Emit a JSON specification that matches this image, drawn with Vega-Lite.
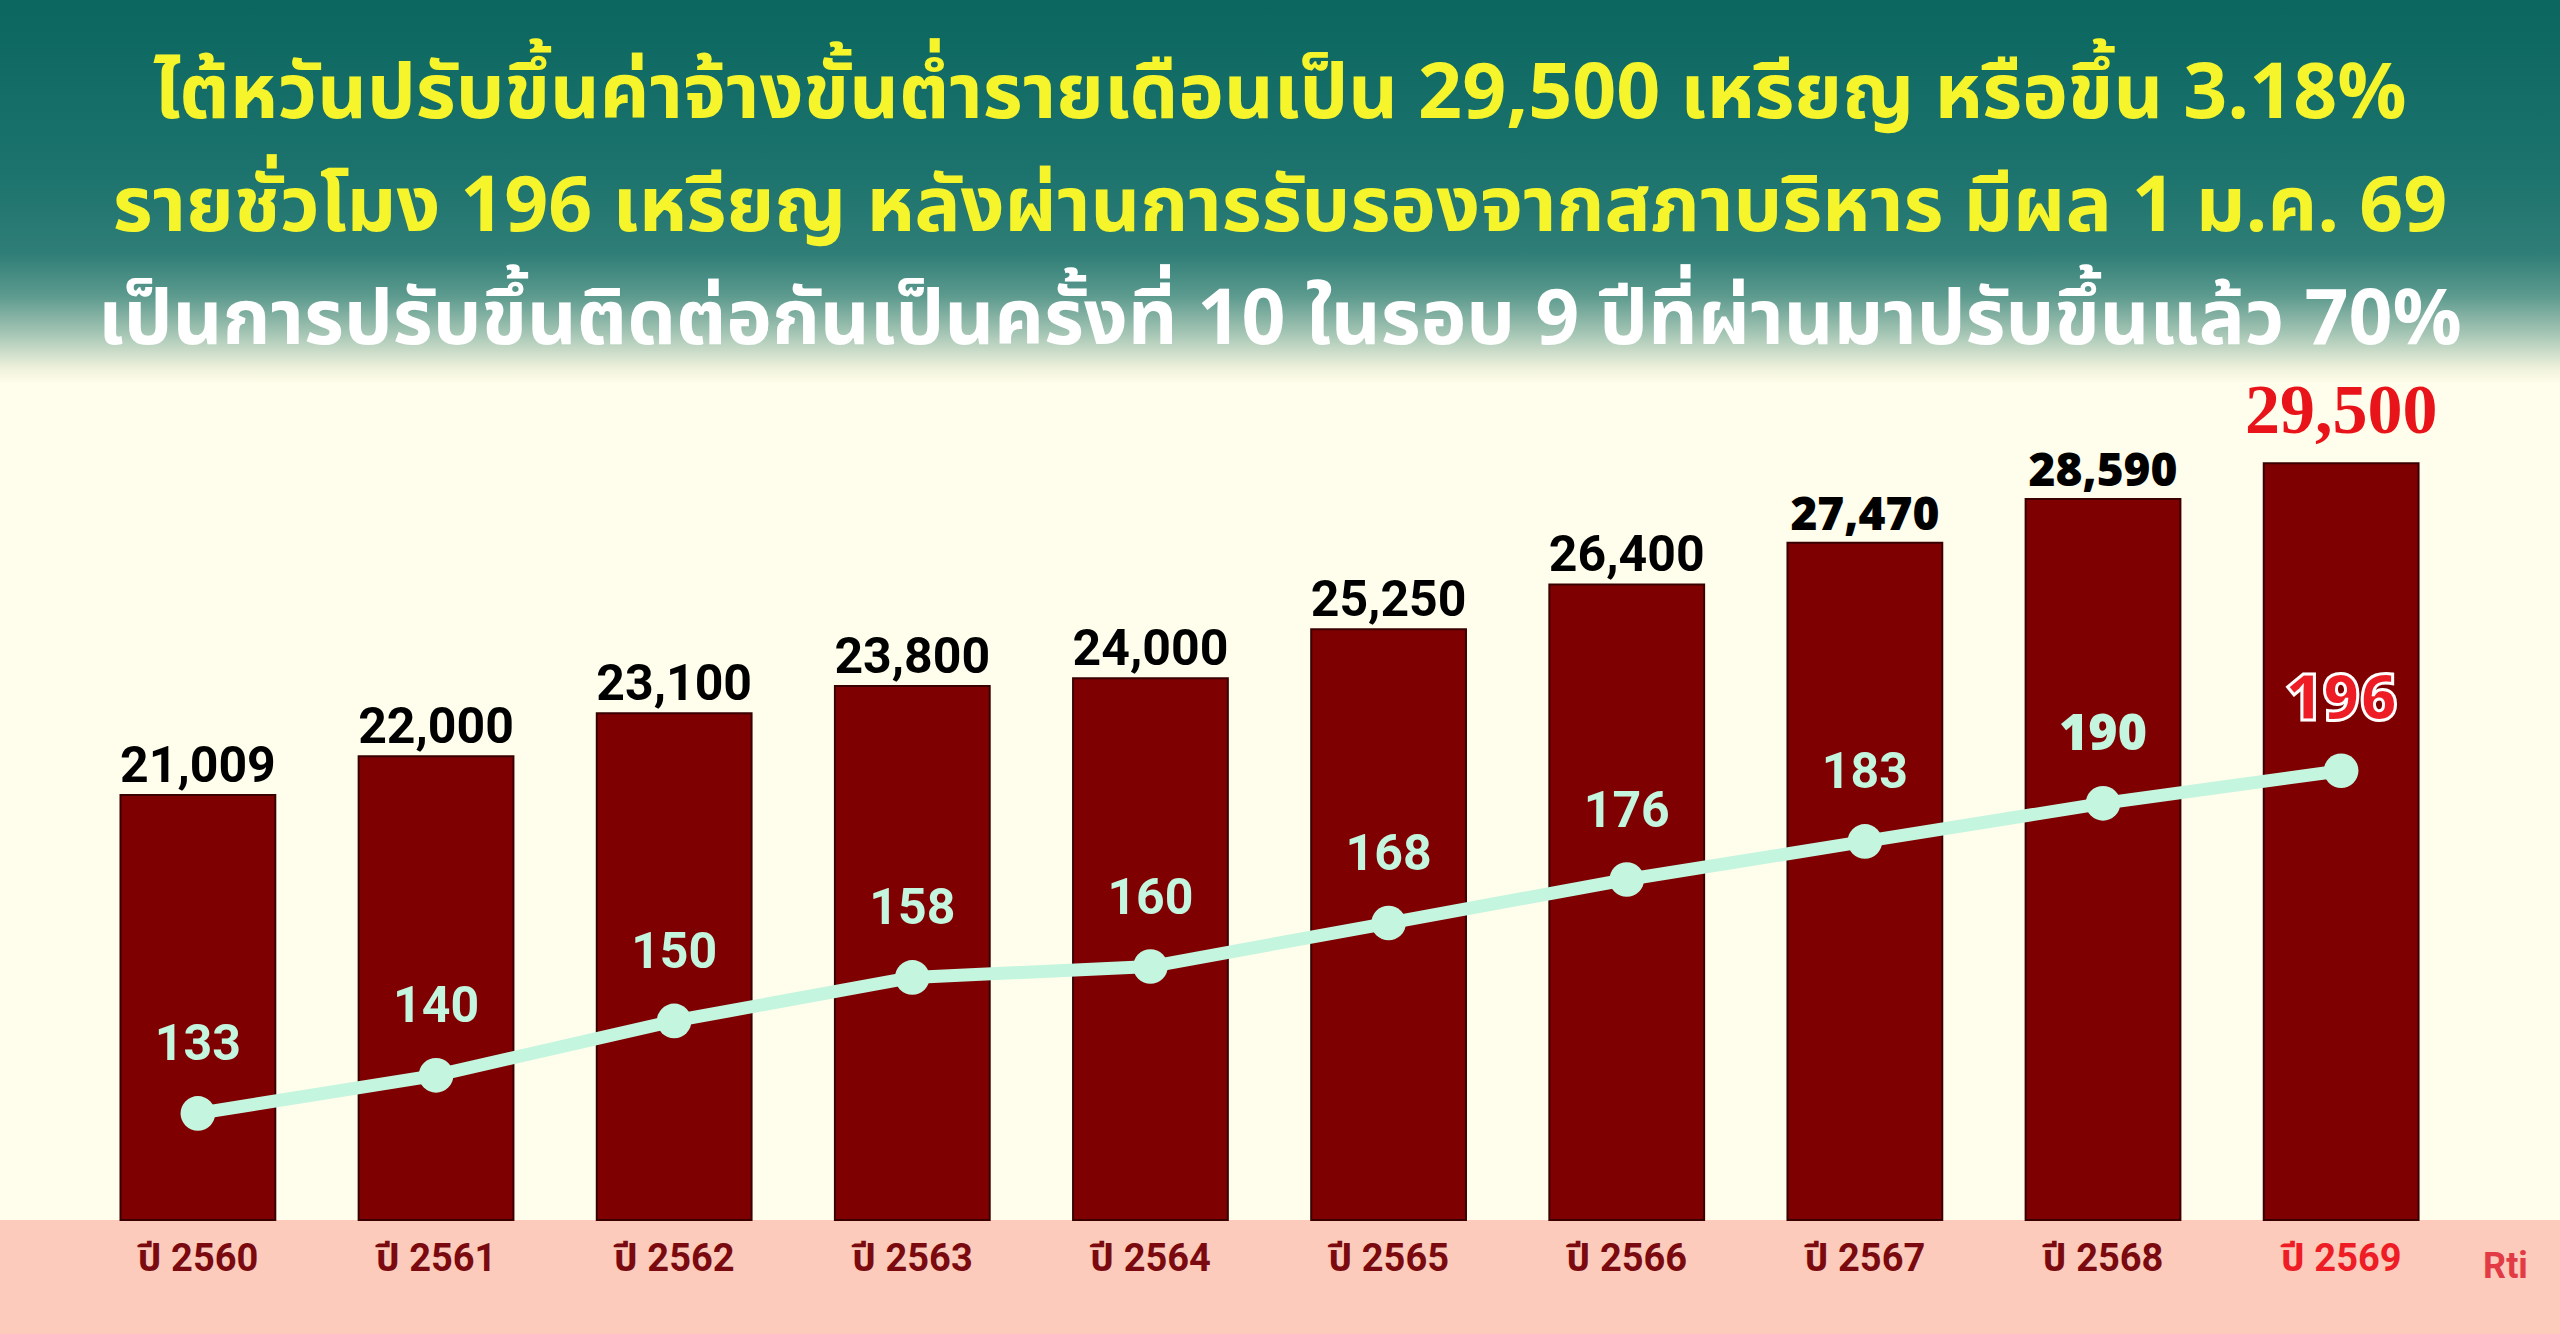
{
  "$schema": "https://vega.github.io/schema/vega-lite/v6.json",
  "background": "#FDCBBB",
  "padding": {"left": 0, "right": 0, "top": 0, "bottom": 60},
  "spacing": 0,
  "bounds": "flush",
  "config": {"view": {"stroke": null}, "concat": {"spacing": 0}},
  "vconcat": [
    {
      "width": 2560,
      "height": 384,
      "view": {
        "stroke": null,
        "fill": {
          "gradient": "linear", "x1": 0, "y1": 0, "x2": 0, "y2": 1,
          "stops": [
            {"offset": 0, "color": "#0B6660"},
            {"offset": 0.45, "color": "#1C736D"},
            {"offset": 0.66, "color": "#2F7E77"},
            {"offset": 0.77, "color": "#5C9A8E"},
            {"offset": 0.87, "color": "#A6C6B5"},
            {"offset": 0.96, "color": "#EFF2DC"},
            {"offset": 1, "color": "#FFFDEB"}
          ]
        }
      },
      "data": {"values": [
        {"line": 1, "text": "ไต้หวันปรับขึ้นค่าจ้างขั้นต่ำรายเดือนเป็น 29,500 เหรียญ หรือขึ้น 3.18%"},
        {"line": 2, "text": "รายชั่วโมง 196 เหรียญ หลังผ่านการรับรองจากสภาบริหาร มีผล 1 ม.ค. 69"},
        {"line": 3, "text": "เป็นการปรับขึ้นติดต่อกันเป็นครั้งที่ 10 ในรอบ 9 ปีที่ผ่านมาปรับขึ้นแล้ว 70%"}
      ]},
      "mark": {
        "type": "text",
        "font": "'Noto Sans Thai', 'Noto Sans Thai Looped', Loma, Garuda, Tahoma, sans-serif",
        "fontWeight": "bold",
        "fontSize": 77,
        "baseline": "middle",
        "dy": 16
      },
      "encoding": {
        "y": {"field": "line", "type": "ordinal", "axis": null, "scale": {"padding": 0.7}},
        "text": {"field": "text"},
        "color": {"field": "line", "type": "nominal", "legend": null,
          "scale": {"domain": [1, 2, 3], "range": ["#F6F52C", "#F6F52C", "#FFFFFF"]}}
      }
    },
    {
      "width": 2560,
      "height": 836,
      "view": {"fill": "#FFFDEB", "stroke": null},
      "data": {"values": [
        {"year": "2560", "monthly": 21009, "hourly": 133},
        {"year": "2561", "monthly": 22000, "hourly": 140},
        {"year": "2562", "monthly": 23100, "hourly": 150},
        {"year": "2563", "monthly": 23800, "hourly": 158},
        {"year": "2564", "monthly": 24000, "hourly": 160},
        {"year": "2565", "monthly": 25250, "hourly": 168},
        {"year": "2566", "monthly": 26400, "hourly": 176},
        {"year": "2567", "monthly": 27470, "hourly": 183},
        {"year": "2568", "monthly": 28590, "hourly": 190},
        {"year": "2569", "monthly": 29500, "hourly": 196}
      ]},
      "encoding": {
        "x": {
          "field": "year", "type": "ordinal",
          "scale": {"paddingInner": 0.35, "paddingOuter": 0.55, "align": 0.46},
          "axis": {
            "title": "Rti",
            "titleX": 2505, "titleY": 46, "titleBaseline": "middle", "titleAlign": "center",
            "titleFont": "Roboto", "titleFontSize": 36, "titleFontWeight": "bold",
            "titleColor": "#E33B45",
            "domain": false, "ticks": false, "labelAngle": 0,
            "labelPadding": 20, "labelBaseline": "top",
            "labelFont": "Roboto, 'Noto Sans Thai', Loma, sans-serif",
            "labelFontSize": 38, "labelFontWeight": "bold",
            "labelColor": {"condition": {"test": "datum.value == '2569'", "value": "#EE1C25"}, "value": "#7A0A0F"},
            "labelExpr": "'ปี  ' + datum.label"
          }
        }
      },
      "layer": [
        {
          "encoding": {
            "y": {"field": "monthly", "type": "quantitative", "axis": null,
              "scale": {"domain": [10129, 31532], "zero": false, "nice": false, "clamp": true}}
          },
          "layer": [
            {"mark": {"type": "bar", "color": "#7E0000", "stroke": "#3A0000", "strokeWidth": 2}},
            {
              "transform": [{"filter": "datum.year <= '2566'"}],
              "mark": {"type": "text", "font": "Roboto", "fontWeight": "bold", "fontSize": 50,
                "color": "#000000", "baseline": "alphabetic", "dy": -13},
              "encoding": {"text": {"field": "monthly", "type": "quantitative", "format": ","}}
            },
            {
              "transform": [{"filter": "datum.year == '2567' || datum.year == '2568'"}],
              "mark": {"type": "text", "font": "Open Sans", "fontWeight": 800, "fontSize": 46,
                "color": "#000000", "baseline": "alphabetic", "dy": -13},
              "encoding": {"text": {"field": "monthly", "type": "quantitative", "format": ","}}
            },
            {
              "transform": [{"filter": "datum.year == '2569'"}],
              "mark": {"type": "text", "font": "Liberation Serif", "fontWeight": "bold", "fontSize": 70,
                "color": "#E8141A", "baseline": "alphabetic", "dy": -30},
              "encoding": {"text": {"field": "monthly", "type": "quantitative", "format": ","}}
            }
          ]
        },
        {
          "encoding": {
            "y": {"field": "hourly", "type": "quantitative", "axis": null,
              "scale": {"domain": [113.4, 267.1], "zero": false, "nice": false}}
          },
          "layer": [
            {"mark": {"type": "line", "color": "#C3F5DF", "strokeWidth": 13}},
            {"mark": {"type": "point", "filled": true, "shape": "circle", "size": 1200, "color": "#C3F5DF", "opacity": 1}},
            {
              "transform": [{"filter": "datum.year <= '2567'"}],
              "mark": {"type": "text", "font": "Roboto", "fontWeight": "bold", "fontSize": 50,
                "color": "#C3F5DF", "baseline": "middle", "dy": -68},
              "encoding": {"text": {"field": "hourly", "type": "quantitative"}}
            },
            {
              "transform": [{"filter": "datum.year == '2568'"}],
              "mark": {"type": "text", "font": "Open Sans", "fontWeight": 800, "fontSize": 50,
                "color": "#C3F5DF", "baseline": "middle", "dy": -68},
              "encoding": {"text": {"field": "hourly", "type": "quantitative"}}
            },
            {
              "transform": [{"filter": "datum.year == '2569'"}],
              "mark": {"type": "text", "font": "Open Sans", "fontWeight": 800, "fontSize": 64,
                "color": "#EE1C25", "stroke": "#FFFFFF", "strokeWidth": 3, "baseline": "middle", "dy": -70},
              "encoding": {"text": {"field": "hourly", "type": "quantitative"}}
            }
          ]
        }
      ],
      "resolve": {"scale": {"y": "independent"}}
    }
  ]
}
